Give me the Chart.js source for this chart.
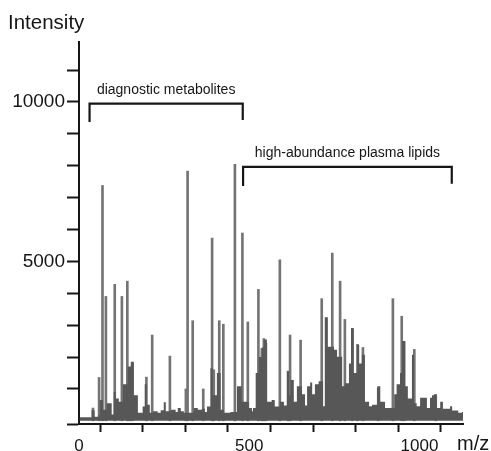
<!DOCTYPE html>
<html>
<head>
<meta charset="utf-8">
<script src="https://cdn.jsdelivr.net/npm/chart.js@4.4.1/dist/chart.umd.min.js"></script>
<style>
  html, body { margin: 0; padding: 0; background: #fff; }
  canvas { display: block; }
</style>
</head>
<body>
<canvas id="spectrum" width="491" height="451"></canvas>
<script>
// background envelope of the spectrum (m/z where each step starts, intensity)
const bgMz = [2, 37, 46, 58, 61, 70, 76, 81, 87, 96, 102, 108, 117, 129, 143, 152, 161, 173, 187, 193,
  199, 208, 217, 231, 240, 249, 255, 270, 284, 290, 299, 308, 322, 337, 349, 361, 370, 376, 386, 393,
  405, 416, 426, 445, 464, 478, 487, 499, 508, 511, 519, 528, 537, 543, 552, 566, 575, 590, 602, 611,
  617, 621, 631, 640, 649, 655, 664, 670, 679, 685, 693, 704, 711, 717, 722, 731, 743, 749, 758, 773,
  781, 793, 799, 807, 817, 823, 831, 840, 852, 861, 876, 885, 899, 919, 926, 933, 943, 949, 958, 966,
  978, 984, 992, 1002, 1022, 1031, 1037, 1043, 1051, 1061, 1069, 1090, 1096, 1114, 1125, 1131];
const bgInt = [110, 330, 130, 180, 650, 350, 350, 550, 550, 200, 900, 700, 600, 1150, 1700, 1850, 800, 250, 450, 1150,
  500, 250, 300, 250, 330, 580, 300, 350, 280, 400, 300, 250, 250, 400, 350, 380, 280, 450, 1650, 800,
  1500, 350, 250, 280, 1080, 600, 600, 400, 300, 400, 1500, 2000, 2300, 2550, 600, 650, 450, 600, 480, 1550,
  800, 1280, 600, 1080, 1080, 830, 480, 1080, 1200, 830, 1150, 1240, 1240, 460, 3250, 2320, 2320, 2230, 2010, 1080,
  1180, 1800, 2900, 1500, 2380, 1800, 2070, 600, 460, 500, 1080, 600, 400, 400, 830, 1150, 1500, 2500, 1080, 700,
  2070, 550, 460, 720, 400, 720, 800, 830, 400, 600, 380, 460, 320, 250, 280, 0];

// individual peaks (m/z, intensity)
const peakMz = [41, 59, 69, 79, 105, 126, 142, 149, 157, 198, 215, 267, 314, 319, 334, 365, 391, 396, 412, 424,
  458, 480, 496, 527, 537, 543, 549, 590, 614, 620, 651, 713, 744, 767, 781, 803, 818, 834, 879, 922,
  948, 955, 985, 1048];
const peakInt = [400, 1360, 7380, 3900, 4280, 3900, 4380, 1650, 1810, 1370, 2690, 2030, 1000, 7830, 3140, 1000, 5730, 1600, 3140, 3030,
  8040, 5890, 3100, 4120, 2270, 2580, 2430, 5050, 1560, 2690, 2530, 3830, 5260, 4380, 3180, 2900, 2400, 2300, 1030, 3830,
  3280, 2490, 2240, 810];

// axis ticks
const xTickVals = [0, 125, 250, 375, 500, 625, 750, 875, 1000];
const xTickLabels = [0, 500, 1000];
const yMin = -100;
const yTickVals = [yMin, 1000, 2000, 3000, 4000, 5000, 6000, 7000, 8000, 9000, 10000, 11000];
const yTickLabels = [5000, 10000];

// bracket annotations
const bracketLabels = ['diagnostic metabolites', 'high-abundance plasma lipids'];
const bracketFrom = [31, 482];
const bracketTo = [481, 1095];
const bracketLevel = [9950, 7965];
const bracketDropLeft = [9370, 7363];
const bracketDropRight = [9430, 7437];

const FONT = '"Liberation Sans", Arial, Helvetica, sans-serif';
const INK = '#161616';

const bgData = bgMz.map((m, i) => ({ x: m, y: bgInt[i] }));
const peakData = peakMz.map((m, i) => ({ x: m, y: peakInt[i] }));

const bracketSets = bracketLabels.map((lbl, i) => ({
  type: 'line',
  label: lbl,
  data: [
    { x: bracketFrom[i], y: bracketDropLeft[i] },
    { x: bracketFrom[i], y: bracketLevel[i] },
    { x: bracketTo[i], y: bracketLevel[i] },
    { x: bracketTo[i], y: bracketDropRight[i] }
  ],
  borderColor: INK,
  borderWidth: 2.2,
  pointRadius: 0,
  fill: false,
  tension: 0,
  order: 0
}));

const textPlugin = {
  id: 'texts',
  afterDraw(chart) {
    const ctx = chart.ctx;
    const xs = chart.scales.x, ys = chart.scales.y;
    ctx.save();
    ctx.fillStyle = INK;
    ctx.textBaseline = 'alphabetic';
    ctx.font = '20.5px ' + FONT;
    ctx.textAlign = 'left';
    ctx.fillText('Intensity', 8, 29);
    ctx.font = '20px ' + FONT;
    ctx.fillText('m/z', 457, 450);
    ctx.font = '14px ' + FONT;
    ctx.textAlign = 'center';
    bracketLabels.forEach((lbl, i) => {
      const cx = xs.getPixelForValue((bracketFrom[i] + bracketTo[i]) / 2);
      const cy = ys.getPixelForValue(bracketLevel[i]) - 10;
      ctx.fillText(lbl, cx, cy);
    });
    ctx.restore();
  }
};

new Chart(document.getElementById('spectrum'), {
  type: 'bar',
  data: {
    datasets: [
      {
        type: 'line',
        label: 'background',
        data: bgData,
        stepped: true,
        fill: 'origin',
        backgroundColor: '#575757',
        borderWidth: 0,
        pointRadius: 0,
        order: 1
      },
      {
        type: 'bar',
        label: 'peaks',
        data: peakData,
        backgroundColor: '#747474',
        barThickness: 2,
        grouped: false,
        order: 2
      },
      ...bracketSets
    ]
  },
  options: {
    responsive: false,
    animation: false,
    devicePixelRatio: 1,
    layout: { padding: { left: 0, right: 28, top: 42, bottom: 0 } },
    plugins: { legend: { display: false }, tooltip: { enabled: false } },
    scales: {
      x: {
        type: 'linear',
        min: 0,
        max: 1128,
        offset: false,
        afterBuildTicks: (s) => { s.ticks = xTickVals.map(v => ({ value: v })); },
        afterFit: (s) => { s.height = 27; },
        grid: { drawOnChartArea: false, tickLength: 8, tickWidth: 2, tickColor: INK },
        border: { color: INK, width: 2 },
        ticks: {
          autoSkip: false,
          maxRotation: 0,
          padding: 4,
          color: INK,
          font: { family: FONT, size: 17 },
          callback: (v) => xTickLabels.includes(v) ? String(v) : ''
        }
      },
      y: {
        min: yMin,
        max: 11880,
        afterBuildTicks: (s) => { s.ticks = yTickVals.map(v => ({ value: v })); },
        afterFit: (s) => { s.width = 79; },
        grid: { drawOnChartArea: false, tickLength: 12, tickWidth: 2, tickColor: INK },
        border: { color: INK, width: 2 },
        ticks: {
          padding: 2,
          color: INK,
          font: { family: FONT, size: 19 },
          callback: (v) => yTickLabels.includes(v) ? String(v) : ''
        }
      }
    }
  },
  plugins: [textPlugin]
});
</script>
</body>
</html>
